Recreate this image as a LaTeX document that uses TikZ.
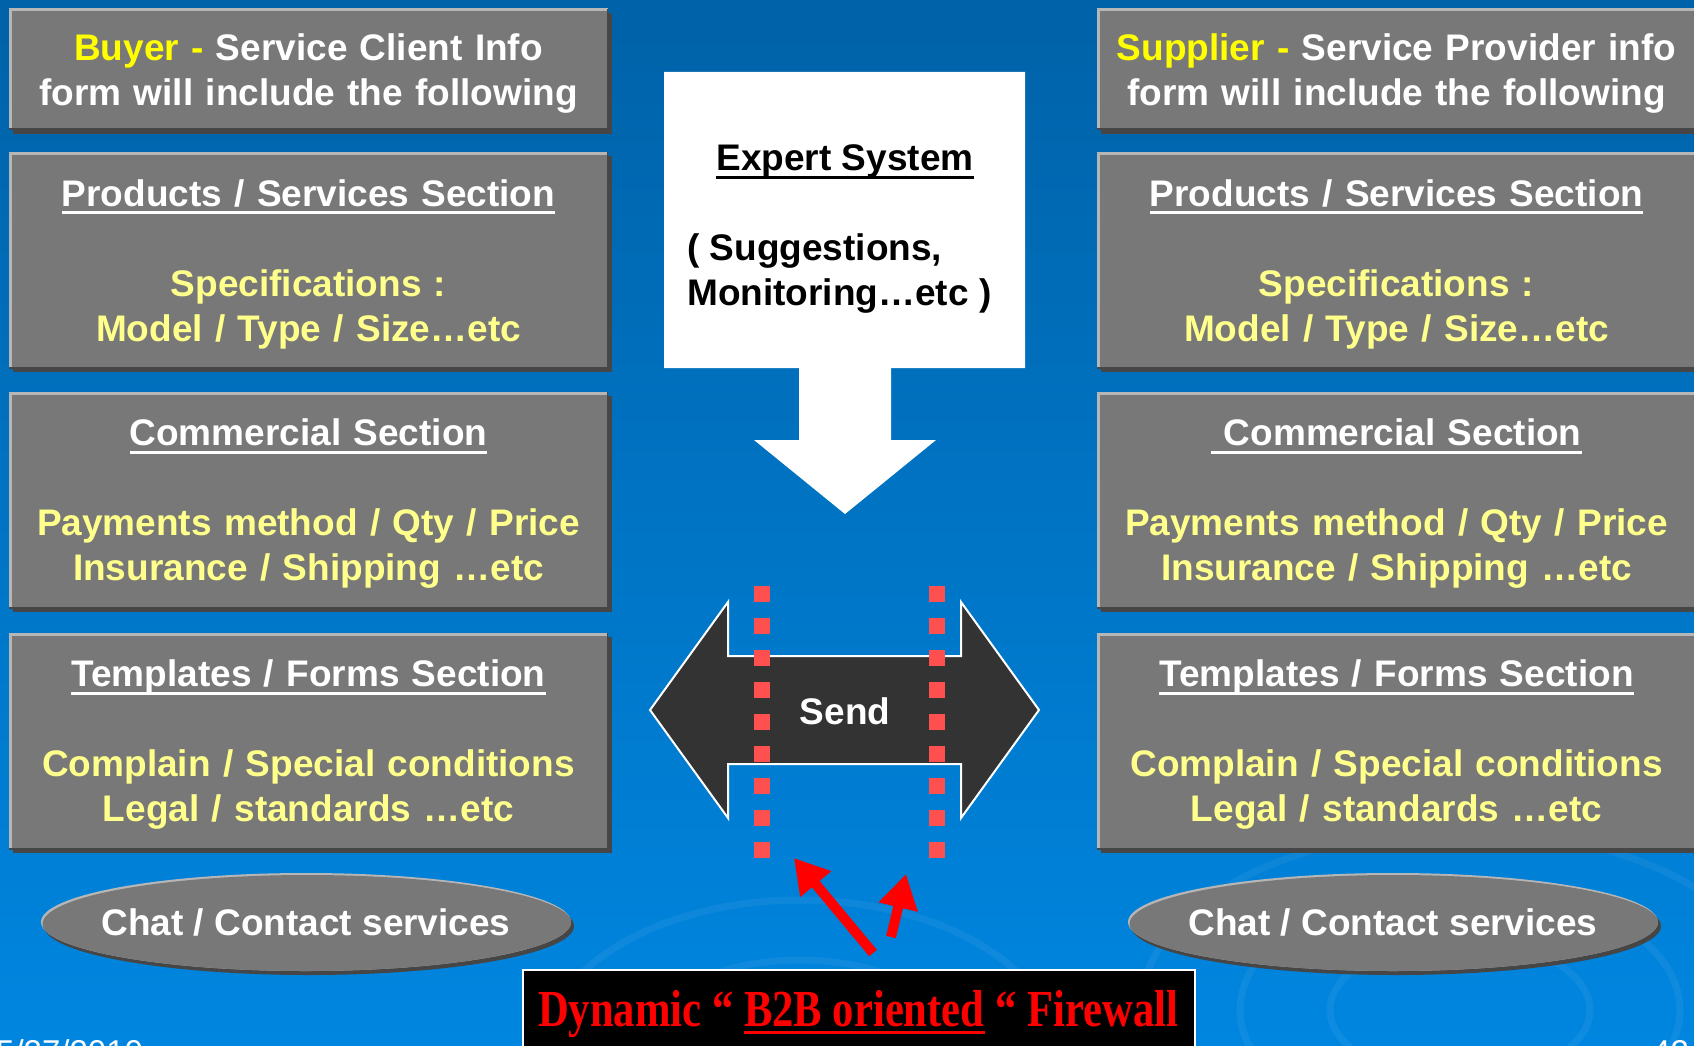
\documentclass[tikz,border=0pt]{standalone}
\usepackage{fontspec}
\setmainfont{Liberation Sans}
\newfontfamily\fwfont[FakeStretch=0.82]{Liberation Serif}
\usetikzlibrary{shapes.geometric,shadows,arrows.meta}
\definecolor{bgtop}{RGB}{0,98,168}
\definecolor{bgbot}{RGB}{0,134,224}
\definecolor{boxgray}{RGB}{120,120,120}
\definecolor{boxlight}{RGB}{182,182,182}
\definecolor{boxdark}{RGB}{70,70,70}
\definecolor{tyellow}{RGB}{255,255,0}
\definecolor{lyellow}{RGB}{255,255,140}
\definecolor{sendfill}{RGB}{51,51,51}
\definecolor{dashred}{RGB}{255,80,80}
\newcommand\bigtxt{\fontsize{37pt}{45pt}\selectfont\bfseries}
\newcommand\myul[1]{\leavevmode\setbox0\hbox{#1}\rlap{\vrule width \wd0 height -5pt depth 7.8pt}\box0\relax}
\begin{document}
\begin{tikzpicture}[x=1pt,y=-1pt,
  gbox/.style={rectangle, fill=boxgray, inner sep=0pt, minimum width=599pt,
    drop shadow={shadow xshift=4pt, shadow yshift=-4pt, fill=boxdark, opacity=1},
    path picture={
      \draw[boxlight, line width=5pt] (path picture bounding box.south west) -- (path picture bounding box.north west) -- (path picture bounding box.north east);
      \draw[boxdark, line width=3pt] (path picture bounding box.south west) -- (path picture bounding box.south east) -- (path picture bounding box.north east);}},
  btxt/.style={inner sep=0pt, text width=590pt, align=center, text=white, font=\bigtxt},
  gell/.style={ellipse, fill=boxlight, inner sep=0pt, minimum width=530pt, minimum height=98pt,
    drop shadow={shadow xshift=3pt, shadow yshift=-4pt, fill=boxdark, opacity=1},
    path picture={\fill[boxgray] ([xshift=1.5pt,yshift=-2pt]path picture bounding box.center) ellipse [x radius=265pt, y radius=49pt];}},
  etxt/.style={inner sep=0pt, text=white, font=\bigtxt},
  redline/.style={dashred, line width=16pt, dash pattern=on 16pt off 16pt},
  redarrow/.style={red, line width=10pt, -{Triangle[length=34pt,width=38pt]}},
  swirl/.style={white, opacity=0.055, line width=7pt}
]
\useasboundingbox (0,0) rectangle (1694,1046);
\shade[top color=bgtop, bottom color=bgbot] (0,0) rectangle (1694,1046);
% faint background swirls
\draw[swirl] (1460,1010) ellipse [x radius=130pt, y radius=70pt];
\draw[swirl] (1460,1010) ellipse [x radius=220pt, y radius=125pt];
\draw[swirl] (1460,1010) ellipse [x radius=320pt, y radius=180pt];
\draw[swirl] (800,1060) ellipse [x radius=170pt, y radius=100pt];
\draw[swirl] (800,1060) ellipse [x radius=260pt, y radius=160pt];

% left column
\node[gbox, minimum height=121pt] (b1L) at (308.5,69.5) {};
\node[gbox, minimum height=216pt] (b2L) at (308.5,260) {};
\node[gbox, minimum height=216pt] (b3L) at (308.5,500) {};
\node[gbox, minimum height=216pt] (b4L) at (308.5,741) {};
\node[btxt] (t1L) at (308.5,73.5)
  {{\color{tyellow}Buyer -} Service Client Info\\form will include the following};
\node[btxt] (t2L) at (308.5,264)
  {\myul{Products / Services Section}\\[45pt]\color{lyellow}Specifications :\\Model / Type / Size…etc};
\node[btxt] (t3L) at (308.5,504)
  {\myul{Commercial Section}\\[45pt]\color{lyellow}Payments method / Qty / Price\\Insurance / Shipping …etc};
\node[btxt] (t4L) at (308.5,745)
  {\myul{Templates / Forms Section}\\[45pt]\color{lyellow}Complain / Special conditions\\Legal / standards …etc};
\node[gell] (eL) at (306,922) {};
\node[etxt] (etL) at (eL) {Chat / Contact services};

% right column
\node[gbox, minimum height=121pt] (b1R) at (1396.5,69.5) {};
\node[gbox, minimum height=216pt] (b2R) at (1396.5,260) {};
\node[gbox, minimum height=216pt] (b3R) at (1396.5,500) {};
\node[gbox, minimum height=216pt] (b4R) at (1396.5,741) {};
\node[btxt] (t1R) at (1396.5,73.5)
  {{\color{tyellow}Supplier -} Service Provider info\\form will include the following};
\node[btxt] (t2R) at (1396.5,264)
  {\myul{Products / Services Section}\\[45pt]\color{lyellow}Specifications :\\Model / Type / Size…etc};
\node[btxt] (t3R) at (1396.5,504)
  {\myul{\ Commercial Section}\\[45pt]\color{lyellow}Payments method / Qty / Price\\Insurance / Shipping …etc};
\node[btxt] (t4R) at (1396.5,745)
  {\myul{Templates / Forms Section}\\[45pt]\color{lyellow}Complain / Special conditions\\Legal / standards …etc};
\node[gell] (eR) at (1393,922) {};
\node[etxt] (etR) at (eR) {Chat / Contact services};

% expert system callout
\fill[white] (664,72) -- (1025,72) -- (1025,368) -- (891,368) -- (891,440) -- (936,440)
  -- (845,514) -- (754,440) -- (799,440) -- (799,368) -- (664,368) -- cycle;
\node[anchor=base, font=\bigtxt, text=black, inner sep=0pt] (esT) at (845,171) {\myul{Expert System}};
\node[anchor=base west, font=\bigtxt, text=black, inner sep=0pt, align=left] (esB) at (687,305)
  {( Suggestions,\\Monitoring…etc )};

% send double arrow
\filldraw[fill=sendfill, draw=white, line width=2pt, line join=miter]
  (650,710) -- (728,602) -- (728,656) -- (961,656) -- (961,602) -- (1039,710)
  -- (961,818) -- (961,764) -- (728,764) -- (728,818) -- cycle;
\node[anchor=base, font=\bigtxt, text=white, inner sep=0pt] (send) at (845,724) {Send};

% firewall dotted lines
\coordinate (fl1) at (762,586);
\coordinate (fl2) at (762,858);
\coordinate (fr1) at (937,586);
\coordinate (fr2) at (937,858);
\draw[redline] (fl1) -- (fl2);
\draw[redline] (fr1) -- (fr2);

% firewall box
\node[rectangle, fill=black, draw=white, line width=1.5pt, inner sep=0pt,
  minimum width=672pt, minimum height=110pt, anchor=north west] (fw) at (522,969) {};
\node[anchor=base, inner sep=0pt, text=red] (fwT) at (858,1026)
  {\fwfont\fontsize{52pt}{60pt}\selectfont\bfseries Dynamic “ \myul{B2B oriented} “ Firewall};

% red arrows
\coordinate (a1s) at (873,953);
\coordinate (a1e) at (794,858);
\coordinate (a2s) at (891,937);
\coordinate (a2e) at (906,874);
\draw[redarrow] (a1s) -- (a1e);
\draw[redarrow] (a2s) -- (a2e);

% footer
\node[anchor=base west, inner sep=0pt, text=white, font=\fontsize{33pt}{40pt}\selectfont] (date) at (-4,1063) {5/27/2010};
\node[anchor=base west, inner sep=0pt, text=white, font=\fontsize{33pt}{40pt}\selectfont] (page) at (1652,1063) {42};
\end{tikzpicture}
\end{document}
